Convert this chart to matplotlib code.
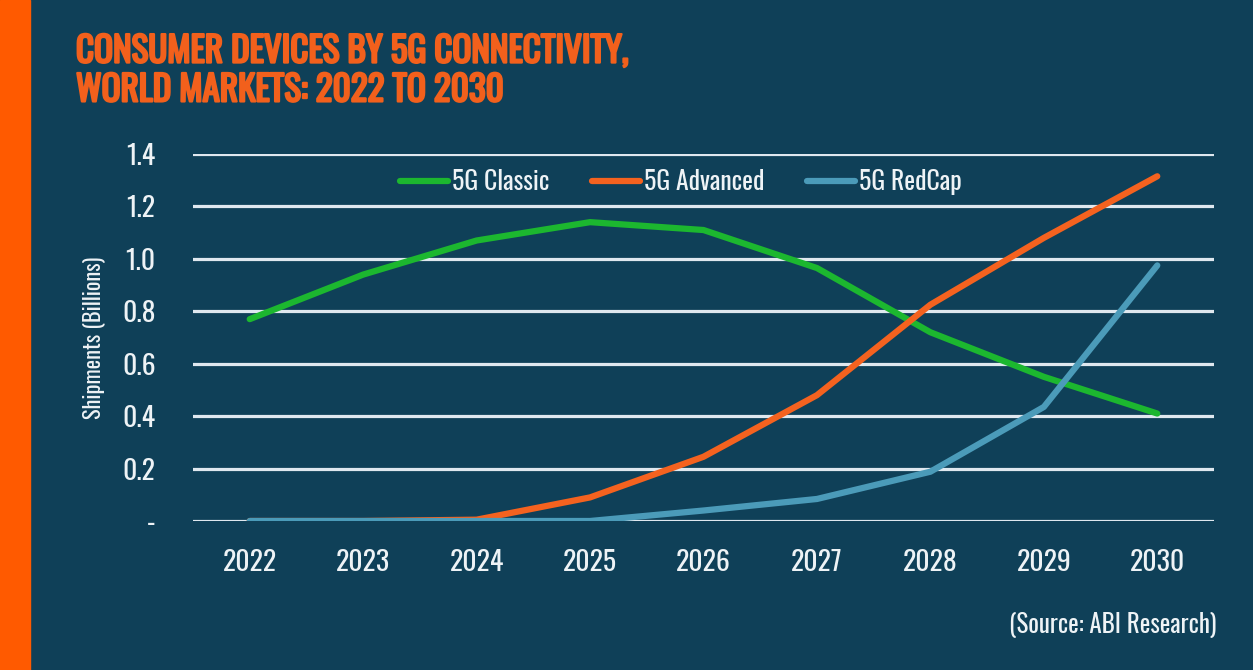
import matplotlib
matplotlib.use("Agg")
import matplotlib.pyplot as plt
from matplotlib.patches import Rectangle
from matplotlib import font_manager
import matplotlib.patheffects as pe

# data (billions of shipments)
years = [2022, 2023, 2024, 2025, 2026, 2027, 2028, 2029, 2030]
classic = [0.77, 0.94, 1.07, 1.14, 1.11, 0.965, 0.72, 0.55, 0.41]
advanced = [0.0, 0.0, 0.005, 0.09, 0.245, 0.48, 0.825, 1.08, 1.315]
redcap = [0.0, 0.0, 0.0, 0.0, 0.04, 0.084, 0.188, 0.435, 0.975]
series_names = ["5G Classic", "5G Advanced", "5G RedCap"]
yticks = [0, 0.2, 0.4, 0.6, 0.8, 1.0, 1.2, 1.4]
ytick_labels = ["-", "0.2", "0.4", "0.6", "0.8", "1.0", "1.2", "1.4"]

bg = "#0f4058"
orange = "#ff5a00"
txt = "#eef3f6"
colors = ["#1cb72f", "#f4621f", "#4b9bb9"]

fonts = font_manager.fontManager.ttflist
names = {f.name for f in fonts}
fam = "DejaVu Sans"
for cand in ["Oswald", "Roboto Condensed", "Barlow Condensed", "Archivo Narrow"]:
    if cand in names:
        fam = cand
        break
plt.rcParams["font.family"] = [fam, "DejaVu Sans"]
# real bold file if there is one, otherwise thicken the regular one
has_bold = any(f.name == fam and f.weight in (700, "bold") for f in fonts)

fig = plt.figure(figsize=(12.53, 6.7), dpi=100, facecolor=bg)
fig.patches.append(Rectangle((0, 0), 30 / 1253, 1, transform=fig.transFigure,
                             color=orange, zorder=0))

ax = fig.add_axes([193 / 1253, 149 / 670, (1214 - 193) / 1253, 367 / 670])
ax.set_facecolor(bg)

for y in yticks:
    ax.axhline(y, color="#dfe8ef", lw=2.3, zorder=1)

for vals, name, c in zip([classic, advanced, redcap], series_names, colors):
    ax.plot(years, vals, color=c, lw=4.5, label=name, solid_capstyle="round",
            solid_joinstyle="round", zorder=3)

ax.set_xlim(2021.5, 2030.5)
ax.set_ylim(0, 1.4)
ax.set_xticks(years)
ax.set_xticklabels([str(y) for y in years])
ax.set_yticks(yticks)
ax.set_yticklabels(ytick_labels)
ax.tick_params(axis="both", length=0, colors=txt, labelsize=20)
ax.tick_params(axis="x", pad=20)
ax.tick_params(axis="y", pad=27)
for s in ax.spines.values():
    s.set_visible(False)

ax.set_ylabel("Shipments (Billions)", color=txt, fontsize=16, labelpad=12)

leg = ax.legend(loc="upper center", bbox_to_anchor=(0.478, 1.022), ncol=3, frameon=False,
                prop={"size": 18.5}, labelcolor=txt, handlelength=1.85,
                handletextpad=0.18, columnspacing=1.65)

title = fig.text(76 / 1253, 1 - 71 / 670,
                 "CONSUMER DEVICES BY 5G CONNECTIVITY,\nWORLD MARKETS: 2022 TO 2030",
                 color="#f2601c", fontsize=25.3, fontweight="bold", va="center", ha="left",
                 linespacing=1.1)
if not has_bold:
    title.set_path_effects([pe.withStroke(linewidth=1.6, foreground="#f2601c")])
fig.text(1216 / 1253, 1 - 625 / 670, "(Source: ABI Research)", color=txt, fontsize=18,
         ha="right", va="center")

fig.savefig("out.png", dpi=100, facecolor=bg)
